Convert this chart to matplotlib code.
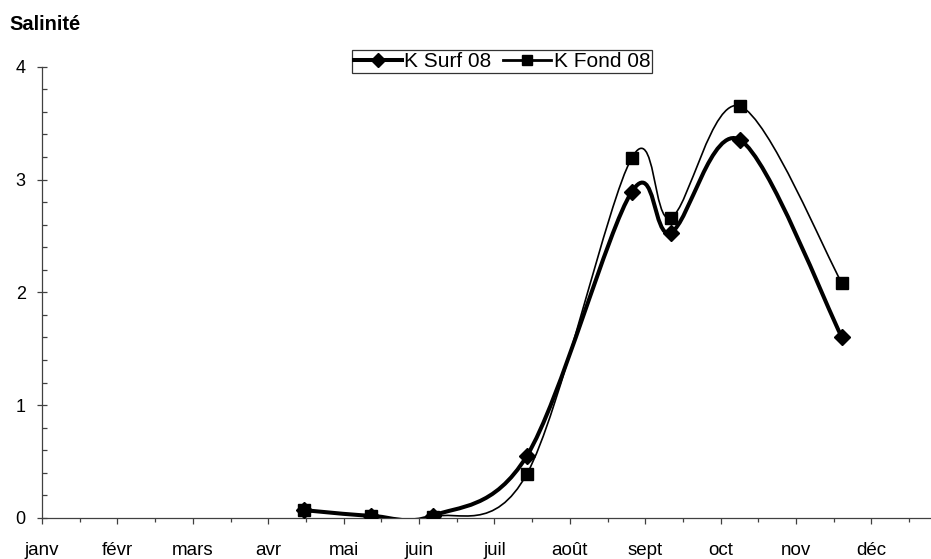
import numpy as np
import matplotlib
matplotlib.use("Agg")
import matplotlib.pyplot as plt
from matplotlib.path import Path
from matplotlib.patches import PathPatch
from matplotlib.lines import Line2D

plt.rcParams['font.family'] = ['Liberation Sans', 'DejaVu Sans']

# Month labels on the x axis (one unit per month, janv = 0)
mois = ["janv", "févr", "mars", "avr", "mai", "juin",
        "juil", "août", "sept", "oct", "nov", "déc"]

# Sampling dates expressed as fractional month positions
dates_pos = [3.47, 4.36, 5.18, 6.43, 7.82, 8.34, 9.26, 10.61]

# Salinity values
surf_08 = [0.07, 0.02, 0.02, 0.55, 2.89, 2.53, 3.35, 1.60]
fond_08 = [0.07, 0.02, 0.01, 0.39, 3.19, 2.66, 3.65, 2.08]

AXIS_COLOR = "#404040"


def smooth_path(xs, ys):
    """Cubic Bezier path through the points (Catmull-Rom style smoothing)."""
    pts = np.column_stack([xs, ys]).astype(float)
    n = len(pts)
    verts = [pts[0]]
    codes = [Path.MOVETO]
    for i in range(n - 1):
        p_prev = pts[i - 1] if i > 0 else pts[i]
        p0 = pts[i]
        p1 = pts[i + 1]
        p_next = pts[i + 2] if i + 2 < n else pts[i + 1]
        c1 = p0 + (p1 - p_prev) / 6.0
        c2 = p1 - (p_next - p0) / 6.0
        verts += [c1, c2, p1]
        codes += [Path.CURVE4] * 3
    return Path(verts, codes)


fig = plt.figure(figsize=(9.31, 5.59), dpi=100)
ax = fig.add_axes([42 / 931, 1 - 518 / 559, 1 - 42 / 931, (518 - 66.7) / 559])

# Bottom-water series: thin smoothed line with square markers
ax.add_patch(PathPatch(smooth_path(dates_pos, fond_08), facecolor="none",
                       edgecolor="black", lw=1.2, zorder=2))
ax.plot(dates_pos, fond_08, ls="none", marker="s", ms=8.8,
        color="black", zorder=3)

# Surface series: thick smoothed line with diamond markers
ax.add_patch(PathPatch(smooth_path(dates_pos, surf_08), facecolor="none",
                       edgecolor="black", lw=2.9, zorder=4))
ax.plot(dates_pos, surf_08, ls="none", marker="D", ms=8.5,
        color="black", zorder=5)

ax.set_xlim(0, 11.79)
ax.set_ylim(0, 4)

for side in ("top", "right"):
    ax.spines[side].set_visible(False)
for side in ("left", "bottom"):
    ax.spines[side].set_color(AXIS_COLOR)
    ax.spines[side].set_linewidth(0.9)

ax.set_xticks(np.arange(len(mois)))
ax.set_xticklabels(mois)
ax.set_xticks(np.arange(len(mois)) + 0.5, minor=True)
ax.set_yticks([0, 1, 2, 3, 4])
ax.set_yticks(np.arange(0, 4.01, 0.2), minor=True)

ax.tick_params(axis="x", which="major", direction="out", length=4.5,
               width=0.9, color=AXIS_COLOR, labelsize=13.5, pad=13)
ax.tick_params(axis="x", which="minor", direction="out", length=3,
               width=0.9, color=AXIS_COLOR)
ax.tick_params(axis="y", which="major", direction="inout", length=7.5,
               width=0.9, color=AXIS_COLOR, labelsize=13, pad=8)
ax.tick_params(axis="y", which="minor", direction="in", length=3.4,
               width=0.9, color=AXIS_COLOR)

for lbl in ax.get_xticklabels() + ax.get_yticklabels():
    lbl.set_color("black")

fig.text(9 / 931, 1 - 25 / 559, "Salinité", fontsize=14.5, fontweight="bold",
         ha="left", va="center")

handles = [
    Line2D([], [], color="black", lw=2.9, marker="D", ms=7),
    Line2D([], [], color="black", lw=2.0, marker="s", ms=7),
]
leg = fig.legend(handles, ["K Surf 08", "K Fond 08"], ncol=2,
                 loc="upper left", bbox_to_anchor=(352 / 931, 1 - 50 / 559),
                 frameon=True, fancybox=False, fontsize=15,
                 handlelength=2.3, handletextpad=0.12, columnspacing=0.55,
                 borderpad=0.1, borderaxespad=0)
leg.get_frame().set_edgecolor("black")
leg.get_frame().set_linewidth(0.9)

fig.savefig("out.png", dpi=100)
